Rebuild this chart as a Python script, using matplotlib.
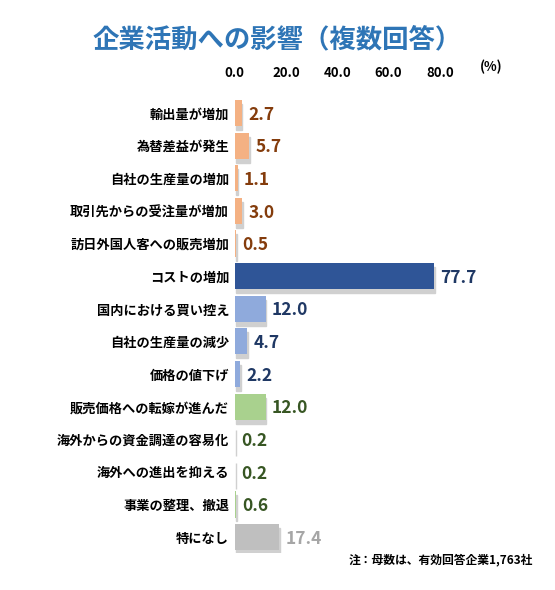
import matplotlib
matplotlib.use("Agg")
import matplotlib.pyplot as plt
from matplotlib.patches import Rectangle

plt.rcParams['font.family'] = ['Noto Sans CJK JP', 'DejaVu Sans']

labels = ["輸出量が増加", "為替差益が発生", "自社の生産量の増加", "取引先からの受注量が増加",
          "訪日外国人客への販売増加", "コストの増加", "国内における買い控え", "自社の生産量の減少",
          "価格の値下げ", "販売価格への転嫁が進んだ", "海外からの資金調達の容易化",
          "海外への進出を抑える", "事業の整理、撤退", "特になし"]
values = [2.7, 5.7, 1.1, 3.0, 0.5, 77.7, 12.0, 4.7, 2.2, 12.0, 0.2, 0.2, 0.6, 17.4]
groups = [0, 0, 0, 0, 0, 1, 2, 2, 2, 3, 3, 3, 3, 4]
bar_colors = ["#f4b183", "#2f5597", "#8faadc", "#a9d18e", "#bfbfbf"]
text_colors = ["#843c0c", "#1f3864", "#1f3864", "#375623", "#a6a6a6"]

fig = plt.figure(figsize=(5.55, 5.9), dpi=100)
ax = fig.add_axes([0.423, 0.062, 0.462, 0.774])
n = len(values)
ys = list(range(n))
for y, v, g in zip(ys, values, groups):
    ax.add_patch(Rectangle((0.3, y - 0.36 + 0.08), v, 0.8, color="#d0d0d0", zorder=1))
    ax.barh(y, v, height=0.8, color=bar_colors[g], zorder=2)
    ax.text(v + 2.5, y + 0.05, f"{v:.1f}", va="center", ha="left", fontsize=12.5,
            fontweight="bold", color=text_colors[g])
ax.set_ylim(n - 0.5, -0.5)
ax.set_xlim(0, 100)
ax.set_yticks(ys)
ax.set_yticklabels(labels, fontsize=9.5, fontweight="bold")
ax.xaxis.tick_top()
ax.set_xticks([0, 20, 40, 60, 80])
ax.set_xticklabels(["0.0", "20.0", "40.0", "60.0", "80.0"], fontsize=9.5, fontweight="bold")
ax.tick_params(length=0, pad=4)
ax.tick_params(axis="x", pad=12)
for s in ax.spines.values():
    s.set_visible(False)
ax.text(100, -1.2, "(%)", ha="center", va="bottom", fontsize=9.5, fontweight="bold",
        transform=ax.transData)
fig.text(0.5, 0.932, "企業活動への影響（複数回答）", ha="center", va="center",
         fontsize=19, fontweight="bold", color="#2e75b6")
fig.text(0.96, 0.051, "注：母数は、有効回答企業1,763社", ha="right", va="center",
         fontsize=8.5, fontweight="bold")
fig.savefig("out.png", dpi=100)
